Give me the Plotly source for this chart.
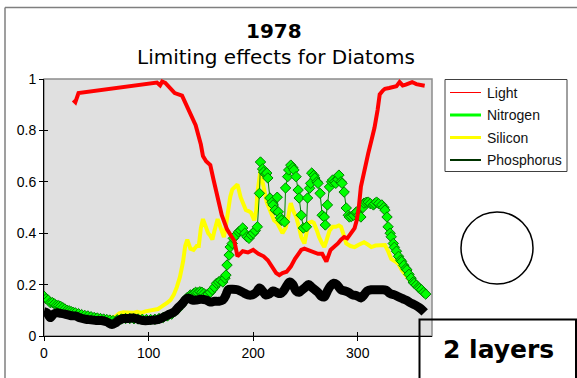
import plotly.graph_objects as go

# ---------------- data ----------------
light_days = [28, 30, 33, 108, 111, 113, 116, 121, 125, 132, 137, 141, 145, 150, 152, 155, 159, 162, 166, 170,
              175, 179, 182, 185, 190, 195, 200, 205, 210, 214, 218, 222, 225, 228, 232, 236, 240, 243, 246, 249,
              255, 259, 262, 266, 270, 274, 277, 281, 284, 287, 290, 294, 297, 299, 301, 303, 306, 310, 313, 316,
              319, 321, 324, 326, 330, 334, 337, 340, 343, 346, 349, 352, 356, 360, 364]
light_vals = [0.918, 0.91, 0.945, 0.986, 0.975, 0.99, 0.985, 0.965, 0.945, 0.935, 0.89, 0.855, 0.82, 0.745, 0.70,
              0.68, 0.665, 0.61, 0.535, 0.47, 0.415, 0.39, 0.37, 0.31, 0.33, 0.325, 0.335, 0.32, 0.31, 0.295, 0.27,
              0.245, 0.237, 0.245, 0.25, 0.27, 0.30, 0.32, 0.335, 0.34, 0.33, 0.325, 0.32, 0.32, 0.29, 0.335, 0.345,
              0.36, 0.375, 0.385, 0.38, 0.40, 0.42, 0.45, 0.50, 0.58, 0.64, 0.71, 0.76, 0.81, 0.88, 0.94, 0.955,
              0.962, 0.965, 0.968, 0.972, 0.988, 0.975, 0.978, 0.985, 0.988, 0.98, 0.975, 0.974]

si_days = [0, 5, 10, 15, 20, 25, 30, 35, 40, 45, 50, 55, 60, 64, 68, 72, 76, 80, 85, 89, 93, 97, 101, 105, 109,
           112, 115, 118, 121, 124, 127, 130, 133, 135, 137, 140, 143, 146, 148, 150, 152, 155, 157, 159, 161,
           163, 166, 169, 172, 174, 176, 178, 180, 183, 185, 188, 191, 193, 196, 198, 201, 203, 204, 206, 207,
           209, 211, 213, 215, 218, 220, 223, 225, 228, 231, 233, 235, 236, 238, 241, 244, 246, 249, 251, 253,
           256, 258, 261, 263, 266, 268, 270, 273, 276, 279, 282, 284, 286, 289, 293, 297, 301, 306, 310, 313,
           317, 322, 326, 329, 332, 336, 339, 342, 346, 349, 352]
si_vals = [0.14, 0.13, 0.12, 0.115, 0.105, 0.10, 0.095, 0.09, 0.085, 0.078, 0.077, 0.075, 0.072, 0.07, 0.075,
           0.088, 0.092, 0.092, 0.09, 0.094, 0.09, 0.096, 0.10, 0.10, 0.105, 0.113, 0.12, 0.13, 0.14, 0.16, 0.19,
           0.23, 0.29, 0.35, 0.375, 0.34, 0.335, 0.35, 0.35, 0.42, 0.455, 0.42, 0.40, 0.39, 0.375, 0.41, 0.455,
           0.42, 0.385, 0.43, 0.49, 0.54, 0.57, 0.585, 0.59, 0.54, 0.51, 0.49, 0.485, 0.48, 0.45, 0.49, 0.555,
           0.63, 0.646, 0.60, 0.56, 0.52, 0.50, 0.47, 0.45, 0.44, 0.425, 0.40, 0.42, 0.45, 0.50, 0.517, 0.49,
           0.465, 0.42, 0.385, 0.36, 0.40, 0.44, 0.445, 0.44, 0.41, 0.385, 0.36, 0.346, 0.37, 0.41, 0.425, 0.425,
           0.43, 0.425, 0.40, 0.36, 0.35, 0.346, 0.355, 0.365, 0.355, 0.346, 0.352, 0.355, 0.354, 0.33, 0.30,
           0.29, 0.28, 0.257, 0.235, 0.22, 0.205]

n_days = [0, 2, 4, 6, 8, 10, 12, 14, 16, 18, 20, 22, 24, 26, 28, 30, 33, 36, 39, 42, 45, 48, 51, 54, 57, 60, 63,
          66, 70, 74, 78, 82, 86, 90, 94, 98, 102, 106, 110, 114, 118, 122, 125, 128, 131, 134, 137, 140, 143,
          145, 147, 149, 151, 153, 155, 157, 159, 161, 163, 165, 167, 169, 171, 173, 174, 175, 177, 178, 180,
          181, 183, 186, 188, 190, 192, 194, 196, 198, 200, 202, 204, 206, 207, 209, 210, 212, 213, 214, 216,
          218, 219, 221, 223, 224, 226, 227, 230, 231, 233, 234, 236, 238, 239, 241, 243, 244, 246, 248, 251,
          252, 254, 255, 256, 258, 259, 261, 262, 264, 266, 268, 269, 271, 273, 275, 276, 278, 279, 281, 282,
          284, 285, 287, 289, 291, 292, 294, 296, 298, 299, 301, 303, 305, 306, 308, 310, 312, 315, 316, 318,
          320, 323, 325, 326, 328, 329, 331, 332, 334, 335, 337, 339, 341, 342, 344, 346, 347, 349, 351, 353,
          354, 356, 358, 359, 361, 363, 365]
n_vals = [0.155, 0.145, 0.14, 0.13, 0.13, 0.125, 0.12, 0.118, 0.115, 0.11, 0.105, 0.10, 0.098, 0.095, 0.092,
          0.09, 0.087, 0.083, 0.08, 0.078, 0.075, 0.072, 0.07, 0.068, 0.066, 0.064, 0.062, 0.06, 0.063, 0.066,
          0.068, 0.068, 0.067, 0.066, 0.065, 0.064, 0.064, 0.065, 0.068, 0.072, 0.078, 0.085, 0.095, 0.105,
          0.12, 0.135, 0.15, 0.16, 0.165, 0.17, 0.168, 0.172, 0.17, 0.165, 0.16, 0.163, 0.17, 0.18, 0.19, 0.205,
          0.21, 0.215, 0.21, 0.225, 0.237, 0.276, 0.315, 0.346, 0.36, 0.38, 0.39, 0.405, 0.41, 0.42, 0.40,
          0.386, 0.38, 0.393, 0.40, 0.41, 0.425, 0.555, 0.677, 0.65, 0.638, 0.63, 0.634, 0.615, 0.537, 0.52,
          0.51, 0.49, 0.54, 0.483, 0.46, 0.45, 0.444, 0.576, 0.62, 0.646, 0.665, 0.655, 0.646, 0.62, 0.568,
          0.537, 0.47, 0.42, 0.425, 0.537, 0.575, 0.594, 0.634, 0.625, 0.615, 0.60, 0.594, 0.555, 0.47, 0.463,
          0.432, 0.51, 0.58, 0.60, 0.607, 0.60, 0.594, 0.61, 0.626, 0.60, 0.594, 0.56, 0.498, 0.47, 0.463,
          0.465, 0.47, 0.48, 0.483, 0.47, 0.463, 0.50, 0.517, 0.52, 0.521, 0.515, 0.51, 0.515, 0.521, 0.515,
          0.51, 0.50, 0.49, 0.463, 0.425, 0.40, 0.386, 0.36, 0.345, 0.33, 0.31, 0.295, 0.29, 0.275, 0.262,
          0.257, 0.24, 0.225, 0.21, 0.205, 0.198, 0.19, 0.185, 0.18, 0.17, 0.163]

p_days = [0, 3, 6, 9, 12, 16, 20, 25, 30, 35, 40, 45, 50, 55, 60, 65, 68, 72, 76, 80, 85, 90, 95, 100, 105, 110,
          115, 120, 125, 128, 132, 135, 138, 142, 146, 150, 155, 159, 163, 167, 171, 174, 176, 180, 185, 190,
          195, 199, 203, 206, 209, 212, 216, 219, 222, 226, 229, 232, 235, 238, 241, 244, 247, 250, 253, 256,
          259, 262, 265, 268, 271, 274, 277, 280, 284, 288, 291, 295, 299, 303, 306, 309, 313, 318, 323, 327,
          331, 335, 339, 343, 347, 351, 355, 359, 362, 364]
p_vals = [0.095, 0.09, 0.072, 0.085, 0.09, 0.088, 0.085, 0.08, 0.078, 0.07, 0.065, 0.063, 0.06, 0.06, 0.055,
          0.045, 0.05, 0.062, 0.068, 0.068, 0.07, 0.065, 0.06, 0.06, 0.062, 0.065, 0.075, 0.085, 0.095, 0.11,
          0.125, 0.14, 0.148, 0.14, 0.14, 0.143, 0.14, 0.132, 0.135, 0.135, 0.14, 0.16, 0.18, 0.182, 0.18, 0.17,
          0.16, 0.16, 0.17, 0.187, 0.175, 0.16, 0.165, 0.175, 0.17, 0.165, 0.175, 0.195, 0.21, 0.20, 0.175,
          0.17, 0.18, 0.19, 0.20, 0.19, 0.18, 0.17, 0.155, 0.152, 0.175, 0.195, 0.205, 0.20, 0.18, 0.175, 0.17,
          0.16, 0.157, 0.148, 0.16, 0.175, 0.18, 0.18, 0.18, 0.178, 0.165, 0.16, 0.152, 0.145, 0.138, 0.128,
          0.12, 0.11, 0.10, 0.092]

legend_names = ["Light", "Nitrogen", "Silicon", "Phosphorus"]
legend_colors = ["#FF0000", "#00FF00", "#FFFF00", "#003300"]
legend_widths = [1, 3, 3, 2]
x_ticks = [0, 100, 200, 300]
y_ticks = [0, 0.2, 0.4, 0.6, 0.8, 1]

# ---------------- geometry helpers (pixel -> paper) ----------------
W, H = 577, 378
ML, MR, MT, MB = 44, 145, 79, 42
PW, PH = W - ML - MR, H - MT - MB


def xp(px):
    return (px - ML) / PW


def yp(py):
    return (H - MB - py) / PH


fig = go.Figure()
fig.add_trace(go.Scatter(x=si_days, y=si_vals, mode="lines", line=dict(color="#FFFF00", width=4),
                         name="Silicon", showlegend=False))
fig.add_trace(go.Scatter(x=n_days, y=n_vals, mode="lines+markers", line=dict(color="#008000", width=1),
                         marker=dict(symbol="diamond", size=8, color="#00FF00", line=dict(color="#008000", width=1)),
                         name="Nitrogen", showlegend=False))
fig.add_trace(go.Scatter(x=p_days, y=p_vals, mode="lines", line=dict(color="#000000", width=9, shape="spline"),
                         name="Phosphorus", showlegend=False))
fig.add_trace(go.Scatter(x=light_days, y=light_vals, mode="lines", line=dict(color="#FF0000", width=4),
                         name="Light", showlegend=False))

tickfont = dict(family="Liberation Sans, Arial, sans-serif", size=14, color="#000000")
fig.update_layout(
    width=W, height=H,
    margin=dict(l=ML, r=MR, t=MT, b=MB, pad=0),
    paper_bgcolor="#FFFFFF", plot_bgcolor="#E0E0E0",
    showlegend=False,
    xaxis=dict(range=[0, 371], tickvals=x_ticks, ticks="outside", ticklen=4, tickcolor="#000000",
               showline=True, linecolor="#000000", linewidth=1, showgrid=False, zeroline=False,
               tickfont=tickfont),
    yaxis=dict(range=[0, 1], tickvals=y_ticks, ticktext=["0", "0.2", "0.4", "0.6", "0.8", "1"],
               ticks="outside", ticklen=4, tickcolor="#000000",
               showline=True, linecolor="#000000", linewidth=1, showgrid=False, zeroline=False,
               tickfont=tickfont),
    xaxis2=dict(range=[0, 371], tickvals=x_ticks, ticks="inside", ticklen=4, tickcolor="#000000",
                showticklabels=False, showline=False, showgrid=False, zeroline=False,
                overlaying="x", anchor="y"),
    yaxis2=dict(range=[0, 1], tickvals=y_ticks, ticks="inside", ticklen=4, tickcolor="#000000",
                showticklabels=False, showline=False, showgrid=False, zeroline=False,
                overlaying="y", anchor="x"),
)
# invisible trace to activate overlay axes
fig.add_trace(go.Scatter(x=[None], y=[None], xaxis="x2", yaxis="y2", showlegend=False, hoverinfo="skip"))

shapes = []
# plot area border (grey)
shapes.append(dict(type="rect", xref="paper", yref="paper", x0=0, x1=1, y0=0, y1=1,
                   line=dict(color="#8C8C8C", width=1.5), layer="below"))
# outer chart frame (top and left)
shapes.append(dict(type="line", xref="paper", yref="paper", x0=xp(5), x1=xp(577), y0=yp(7.5), y1=yp(7.5),
                   line=dict(color="#7F7F7F", width=1.5)))
shapes.append(dict(type="line", xref="paper", yref="paper", x0=xp(5), x1=xp(5), y0=yp(7.5), y1=yp(380),
                   line=dict(color="#7F7F7F", width=1.5)))
# legend box
shapes.append(dict(type="rect", xref="paper", yref="paper", x0=xp(445), x1=xp(567), y0=yp(79.5), y1=yp(171.5),
                   line=dict(color="#404040", width=1), fillcolor="#FFFFFF"))
legend_rows = [92.5, 115, 137.5, 160]
annotations = []
for name, col, lw, ry in zip(legend_names, legend_colors, legend_widths, legend_rows):
    shapes.append(dict(type="line", xref="paper", yref="paper", x0=xp(450), x1=xp(481), y0=yp(ry), y1=yp(ry),
                       line=dict(color=col, width=lw)))
    annotations.append(dict(x=xp(485), y=yp(ry), xref="paper", yref="paper", text=name, showarrow=False,
                            xanchor="left", yanchor="middle",
                            font=dict(family="Liberation Sans, Arial, sans-serif", size=14, color="#111111")))
# circle
shapes.append(dict(type="circle", xref="paper", yref="paper", x0=xp(461), x1=xp(533), y0=yp(284), y1=yp(212),
                   line=dict(color="#000000", width=1.5)))
# "2 layers" box (no fill)
shapes.append(dict(type="rect", xref="paper", yref="paper", x0=xp(419.5), x1=xp(576), y0=yp(381), y1=yp(319.5),
                   line=dict(color="#000000", width=2), layer="above"))

annotations.append(dict(x=xp(498), y=yp(349), xref="paper", yref="paper", text="<b>2 layers</b>",
                        showarrow=False, xanchor="center", yanchor="middle",
                        font=dict(family="DejaVu Sans", size=25, color="#000000")))
annotations.append(dict(x=xp(274), y=yp(30.5), xref="paper", yref="paper", text="<b>1978</b>",
                        showarrow=False, xanchor="center", yanchor="middle",
                        font=dict(family="DejaVu Sans", size=20, color="#000000")))
annotations.append(dict(x=xp(276), y=yp(57), xref="paper", yref="paper", text="Limiting effects for Diatoms",
                        showarrow=False, xanchor="center", yanchor="middle",
                        font=dict(family="DejaVu Sans", size=20, color="#000000")))

fig.update_layout(shapes=shapes, annotations=annotations)
fig.write_html("out.html")
